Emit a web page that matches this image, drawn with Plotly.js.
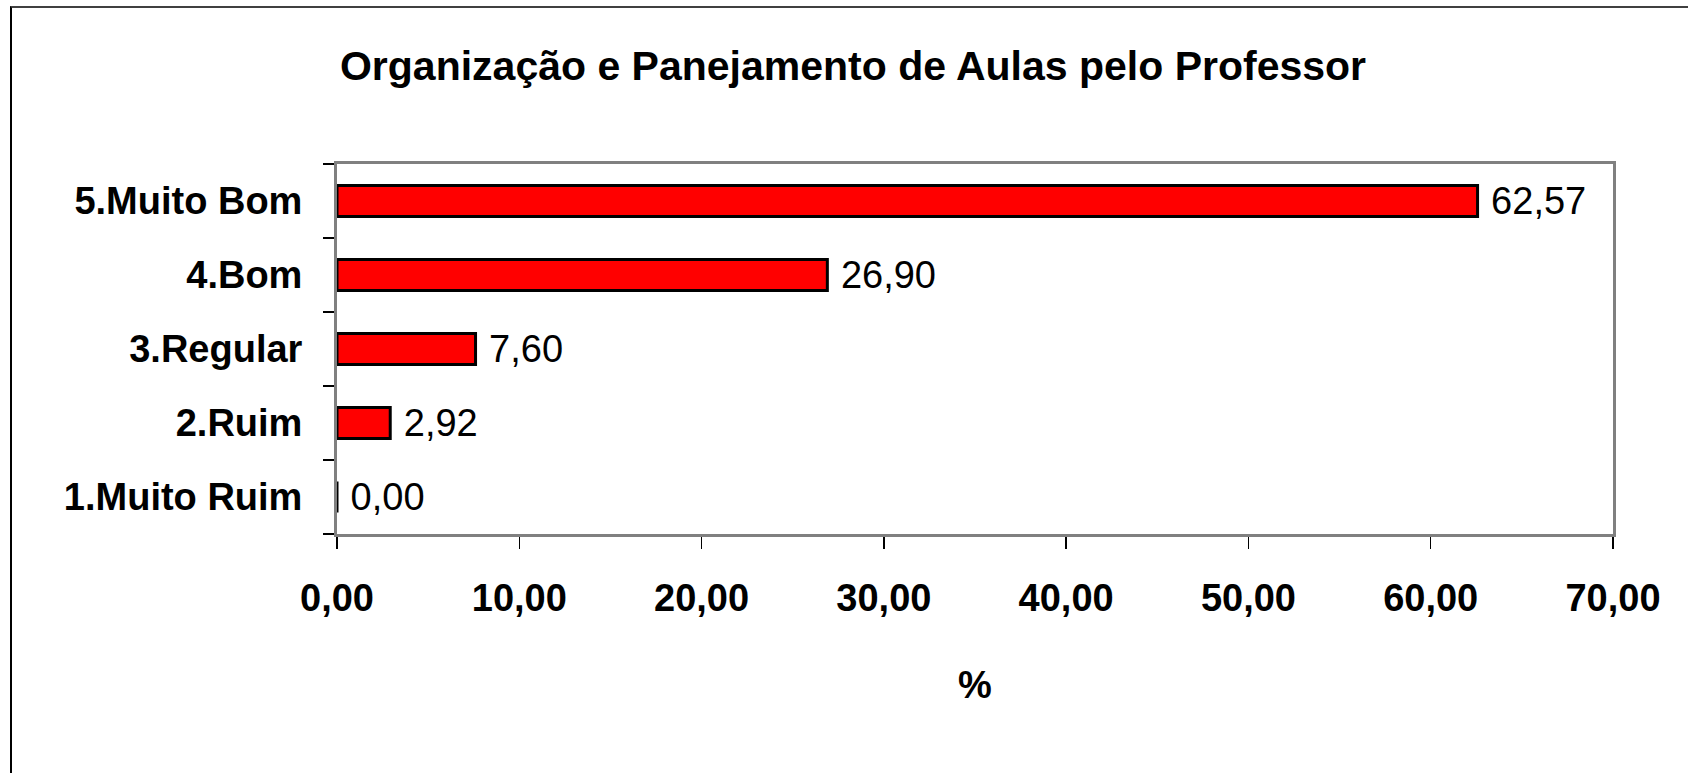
<!DOCTYPE html>
<html>
<head>
<meta charset="utf-8">
<script src="https://cdn.plot.ly/plotly-3.0.1.min.js"></script>
<style>
  html, body { margin: 0; padding: 0; background: #fff; overflow: hidden; }
  #wrap { position: relative; width: 1688px; height: 773px; }
  #chart { width: 1688px; height: 773px; }
  #frame { position: absolute; left: 10px; top: 6px; width: 3000px; height: 3000px;
           border-left: 2px solid #000; border-top: 2px solid #404040; pointer-events: none; }
</style>
</head>
<body>
<div id="wrap">
  <div id="chart"></div>
  <div id="frame"></div>
</div>
<script>
const categories = ['1.Muito Ruim', '2.Ruim', '3.Regular', '4.Bom', '5.Muito Bom'];
const percentValues = [0.00, 2.92, 7.60, 26.90, 62.57];
const xTickValues = [0, 10, 20, 30, 40, 50, 60, 70];
const chartTitle = 'Organização e Panejamento de Aulas pelo Professor';
const xAxisTitle = '%';

const FONT = '"Liberation Sans", Arial, sans-serif';

const trace = {
  type: 'bar',
  orientation: 'h',
  y: categories,
  x: percentValues,
  marker: { color: '#FF0000', line: { color: '#000000', width: 3 } },
  texttemplate: '\u00a0%{x:.2f}',
  textposition: 'outside',
  constraintext: 'none',
  cliponaxis: false,
  textfont: { family: FONT, size: 38, color: '#000' },
  hoverinfo: 'skip'
};

const layout = {
  width: 1688,
  height: 773,
  separators: ',.',
  paper_bgcolor: '#ffffff',
  plot_bgcolor: '#ffffff',
  margin: { l: 337, r: 75, t: 164, b: 239, pad: 0 },
  showlegend: false,
  bargap: 0.58,
  title: {
    text: chartTitle,
    font: { family: FONT, size: 41, color: '#000', weight: 'bold' },
    x: 853 / 1688, xanchor: 'center', xref: 'container',
    y: 1 - 66 / 773, yanchor: 'middle', yref: 'container'
  },
  xaxis: {
    range: [0, 70],
    tickvals: xTickValues,
    tickformat: '.2f',
    ticks: 'outside',
    ticklen: 12,
    tickwidth: 1.5,
    tickcolor: '#000',
    showgrid: false,
    zeroline: false,
    showline: true,
    linecolor: '#808080',
    linewidth: 3,
    mirror: true,
    tickfont: { family: FONT, size: 38, color: '#000', weight: 'bold' },
    ticklabelstandoff: 16,
    title: {
      text: xAxisTitle,
      font: { family: FONT, size: 38, color: '#000', weight: 'bold' },
      standoff: 54
    },
    fixedrange: true
  },
  yaxis: {
    type: 'category',
    categoryorder: 'array',
    categoryarray: categories,
    tickson: 'boundaries',
    ticks: 'outside',
    ticklen: 11,
    tickwidth: 1.5,
    tickcolor: '#000',
    showgrid: false,
    zeroline: false,
    showline: true,
    linecolor: '#808080',
    linewidth: 3,
    mirror: true,
    tickfont: { family: FONT, size: 38, color: '#000', weight: 'bold' },
    ticklabelstandoff: 24,
    fixedrange: true
  }
};

Plotly.newPlot('chart', [trace], layout, { displayModeBar: false, staticPlot: true });
</script>
</body>
</html>
